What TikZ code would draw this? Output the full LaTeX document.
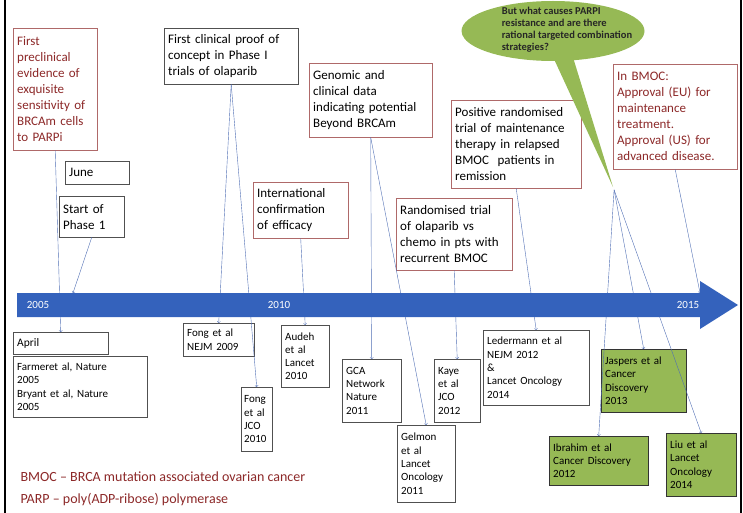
\documentclass[tikz,border=0pt]{standalone}
\usepackage{fontspec}
\setmainfont{Carlito}
\usetikzlibrary{shapes.callouts}
\definecolor{boxred}{RGB}{175,105,105}
\definecolor{darkred}{RGB}{140,40,40}
\definecolor{boxgrey}{RGB}{80,80,80}
\definecolor{linkblue}{RGB}{80,110,180}
\definecolor{barblue}{RGB}{52,98,188}
\definecolor{leafgreen}{RGB}{150,185,85}
\begin{document}
\begin{tikzpicture}[x=1pt,y=-1pt,
evbox/.style ={rectangle, draw=boxred, text=black, anchor=north west,
  align=left, inner xsep=4pt, inner ysep=3pt,
  font=\fontsize{13}{16}\selectfont
},
redbox/.style ={evbox, text=darkred},
plainbox/.style ={evbox, draw=boxgrey},
refbox/.style ={rectangle, draw=boxgrey, anchor=north west, align=left,
  inner xsep=4pt, inner ysep=3pt,
  font=\fontsize{11}{13.3}\selectfont
},
greenbox/.style ={refbox, draw=black!80, fill=leafgreen},
link/.style ={draw=linkblue, thin, ->},
yearlabel/.style ={text=white, font=\fontsize{11}{12}\selectfont}
]
\useasboundingbox (0,0) rectangle (743,513);
% frame
\draw[line width=2.5pt] (5,0) -- (5,513);
\draw[line width=2.5pt] (741,0) -- (741,513);
% events above the line
\node (pre) at (13,28) [redbox, text width=76pt, minimum height=122pt]
  {First\\preclinical\\evidence of\\exquisite\\sensitivity of\\BRCAm cells\\to PARPi};
\node (june) at (65,161) [plainbox, text width=56pt, minimum height=23pt] {June};
\node (ph1) at (59,196) [plainbox, text width=57pt, minimum height=41pt] {Start of\\Phase 1};
\node (fcp) at (164,28) [plainbox, text width=126pt, minimum height=56pt]
  {First clinical proof of\\concept in Phase I\\trials of olaparib};
\node (intl) at (253,182) [evbox, text width=87pt, minimum height=56pt]
  {International\\confirmation\\of efficacy};
\node (gen) at (309,63) [evbox, text width=115pt, minimum height=74pt]
  {Genomic and\\clinical data\\indicating potential\\Beyond BRCAm};
\node (rand) at (396,198) [evbox, text width=108pt, minimum height=72pt]
  {Randomised trial\\of olaparib vs\\chemo in pts with\\recurrent BMOC};
\node (pos) at (451,100) [evbox, text width=122pt, minimum height=88pt]
  {Positive randomised\\trial of maintenance\\therapy in relapsed\\BMOC\ \ patients in\\remission};
\node (appr) at (613,64) [redbox, text width=116pt, minimum height=105pt]
  {In BMOC:\\Approval (EU) for\\maintenance\\treatment.\\Approval (US) for\\advanced disease.};
\node (bubble) at (553,31) [ellipse callout, fill=leafgreen, minimum width=183pt,
  minimum height=60pt, callout absolute pointer={(613,187)}, callout pointer arc=12] {};
\node (bubbletext) at (567,30) [align=left, text=black!85,
  font=\fontsize{10.5}{12}\selectfont\bfseries]
  {But what causes PARPI\\resistance and are there\\rational targeted combination\\strategies?};
% references below the line
\node (april) at (13,332) [refbox, text width=87pt, minimum height=22pt,
  font=\fontsize{11.5}{13}\selectfont] {April};
\node (farmer) at (13,356) [refbox, text width=126pt, minimum height=61pt]
  {Farmeret al, Nature\\2005\\Bryant et al, Nature\\2005};
\node (fongn) at (183,323) [refbox, text width=63pt, minimum height=33pt] {Fong et al\\NEJM 2009};
\node (fongj) at (241,387) [refbox, inner xsep=3pt, text width=25pt, minimum height=64pt]
  {Fong\\et al\\JCO\\2010};
\node (audeh) at (281,325) [refbox, text width=40pt, minimum height=62pt]
  {Audeh\\et al\\Lancet\\2010};
\node (gca) at (342,359) [refbox, text width=51pt, minimum height=63pt]
  {GCA\\Network\\Nature\\2011};
\node (gelmon) at (397,425) [refbox, text width=50pt, minimum height=77pt]
  {Gelmon\\et al\\Lancet\\Oncology\\2011};
\node (kaye) at (434,359) [refbox, text width=38pt, minimum height=63pt]
  {Kaye\\et al\\JCO\\2012};
\node (leder) at (483,330) [refbox, text width=98pt, minimum height=75pt]
  {Ledermann et al\\NEJM 2012\\\&\\Lancet Oncology\\2014};
\node (jaspers) at (601,349) [greenbox, text width=77pt, minimum height=63pt]
  {Jaspers et al\\Cancer\\Discovery\\2013};
\node (ibrahim) at (549,436) [greenbox, text width=91pt, minimum height=49pt]
  {Ibrahim et al\\Cancer Discovery\\2012};
\node (liu) at (666,433) [greenbox, text width=62pt, minimum height=63pt]
  {Liu et al\\Lancet\\Oncology\\2014};
% key
\node (key) at (17,468) [anchor=north west, align=left, text=darkred,
  font=\fontsize{14}{22}\selectfont]
  {BMOC -- BRCA mutation associated ovarian cancer\\PARP -- poly(ADP-ribose) polymerase};
% connectors
\coordinate (ph1end) at (73,293);
\coordinate (apprend) at (700,293);
\draw[link] (pre.south) -- (april.north);
\draw[link] (ph1.south) -- (ph1end);
\draw[link] (fcp.south) -- (fongn.north);
\draw[link] (fcp.south) -- (fongj.north);
\draw[link] (intl.south) -- (audeh.north);
\draw[link] (gen.south) -- (gca.north);
\draw[link] (gen.south) -- (gelmon.north);
\draw[link] (rand.south) -- (kaye.north);
\draw[link] (pos.south) -- (leder.north);
\draw[link] (bubble.pointer) -- (ibrahim.north);
\draw[link] (bubble.pointer) -- (jaspers.north);
\draw[link] (bubble.pointer) -- (liu.north);
\draw[link] (appr.south) -- (apprend);
% time line
\fill[barblue] (17,293) -- (700,293) -- (700,281) -- (738,305) -- (700,329)
  -- (700,317) -- (17,317) -- cycle;
\node (y2005) at (38,305) [yearlabel] {2005};
\node (y2010) at (279,305) [yearlabel] {2010};
\node (y2015) at (688,305) [yearlabel] {2015};
\end{tikzpicture}
\end{document}
